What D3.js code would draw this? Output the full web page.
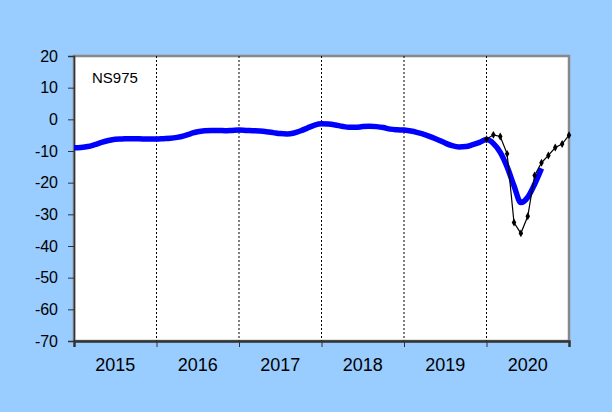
<!DOCTYPE html>
<html>
<head>
<meta charset="utf-8">
<script src="https://cdn.jsdelivr.net/npm/d3@7"></script>
<style>
  html, body { margin: 0; padding: 0; background: #99ccff; }
  svg { display: block; font-family: "Liberation Sans", Arial, sans-serif; }
</style>
</head>
<body>
<div id="chart"></div>
<script>
// years on the category axis, one band of 12 months each
const years = ['2015', '2016', '2017', '2018', '2019', '2020'];
const yTicks = [20, 10, 0, -10, -20, -30, -40, -50, -60, -70];

// smoothed series (blue), monthly from Jan 2015
const trendValues = [
  -9.0, -8.9, -8.6, -8.0, -7.3, -6.7, -6.3, -6.2, -6.1, -6.1, -6.2, -6.2,
  -6.2, -6.1, -6.0, -5.7, -5.2, -4.5, -3.9, -3.6, -3.5, -3.5, -3.6, -3.5,
  -3.4, -3.5, -3.6, -3.7, -3.9, -4.2, -4.5, -4.6, -4.3, -3.6, -2.7, -1.8,
  -1.4, -1.5, -1.8, -2.2, -2.5, -2.5, -2.3, -2.2, -2.3, -2.6, -3.1, -3.3,
  -3.4, -3.7, -4.2, -4.8, -5.6, -6.5, -7.5, -8.3, -8.7, -8.6, -8.0, -7.3,
  -6.4, -7.6, -10.4, -15.0, -21.0, -26.3, -24.6, -20.5, -15.5
];

// raw monthly series (black), starts at month 60
const rawStart = 60;
const rawValues = [-6.3, -4.9, -5.4, -10.9, -32.6, -36.0, -30.6, -17.7, -13.7, -11.4, -8.9, -7.8, -5.0];

const seriesLabel = 'NS975';

const width = 612;
const height = 412;
const margin = { top: 56, right: 43, bottom: 71, left: 74 };
const innerW = width - margin.left - margin.right;
const innerH = height - margin.top - margin.bottom;

const svg = d3.select('#chart')
  .append('svg')
  .attr('width', width)
  .attr('height', height);

svg.append('rect')
  .attr('width', width)
  .attr('height', height)
  .attr('fill', '#99ccff');

const g = svg.append('g')
  .attr('transform', `translate(${margin.left},${margin.top})`);

const x = d3.scaleLinear()
  .domain([0, years.length * 12])
  .range([0, innerW]);

const y = d3.scaleLinear()
  .domain([-70, 20])
  .range([innerH, 0]);

// plot area
g.append('rect')
  .attr('width', innerW)
  .attr('height', innerH)
  .attr('fill', '#ffffff')
  .attr('stroke', '#888888')
  .attr('stroke-width', 2.5);

// dotted year separators
g.selectAll('line.sep')
  .data(d3.range(1, years.length))
  .enter()
  .append('line')
  .attr('class', 'sep')
  .attr('x1', d => x(d * 12))
  .attr('x2', d => x(d * 12))
  .attr('y1', 0)
  .attr('y2', innerH)
  .attr('stroke', '#000')
  .attr('stroke-width', 1)
  .attr('stroke-dasharray', '2,2');

// y axis
const yAxis = g.append('g')
  .call(d3.axisLeft(y).tickValues(yTicks).tickSize(6).tickPadding(10).tickFormat(d3.format('d')));
yAxis.select('.domain').attr('stroke', '#333').attr('stroke-width', 1.5);
yAxis.selectAll('.tick line').attr('stroke', '#333');
yAxis.selectAll('text')
  .attr('font-size', '16px')
  .attr('fill', '#000')
  .attr('font-family', '"Liberation Sans", Arial, sans-serif')
  .text(d => d < 0 ? '-' + Math.abs(d) : d);

// x axis: ticks on year boundaries, labels centred in each year
const xAxis = g.append('g')
  .attr('transform', `translate(0,${innerH})`)
  .call(d3.axisBottom(x).tickValues(d3.range(0, years.length + 1).map(i => i * 12)).tickSize(6).tickFormat(''));
xAxis.select('.domain').attr('stroke', '#333').attr('stroke-width', 2.5);
xAxis.selectAll('.tick line').attr('stroke', '#333');

g.selectAll('text.year')
  .data(years)
  .enter()
  .append('text')
  .attr('class', 'year')
  .attr('x', (d, i) => x(i * 12 + 6))
  .attr('y', innerH + 30)
  .attr('text-anchor', 'middle')
  .attr('font-size', '18px')
  .attr('fill', '#000')
  .text(d => d);

// series label
g.append('text')
  .attr('x', 18)
  .attr('y', 27)
  .attr('font-size', '15px')
  .attr('fill', '#000')
  .text(seriesLabel);

// trend line
const trendLine = d3.line()
  .x((d, i) => x(i))
  .y(d => y(d))
  .curve(d3.curveMonotoneX);

g.append('path')
  .datum(trendValues)
  .attr('fill', 'none')
  .attr('stroke', '#0000ff')
  .attr('stroke-width', 5.5)
  .attr('stroke-linejoin', 'round')
  .attr('d', trendLine);

// raw line with diamond markers
const rawLine = d3.line()
  .x((d, i) => x(rawStart + i))
  .y(d => y(d));

g.append('path')
  .datum(rawValues)
  .attr('fill', 'none')
  .attr('stroke', '#000')
  .attr('stroke-width', 1.2)
  .attr('d', rawLine);

const diamond = d3.symbol().type(d3.symbolDiamond).size(18);

g.selectAll('path.marker')
  .data(rawValues)
  .enter()
  .append('path')
  .attr('class', 'marker')
  .attr('transform', (d, i) => `translate(${x(rawStart + i)},${y(d)})`)
  .attr('d', diamond)
  .attr('fill', '#000');
</script>
</body>
</html>
